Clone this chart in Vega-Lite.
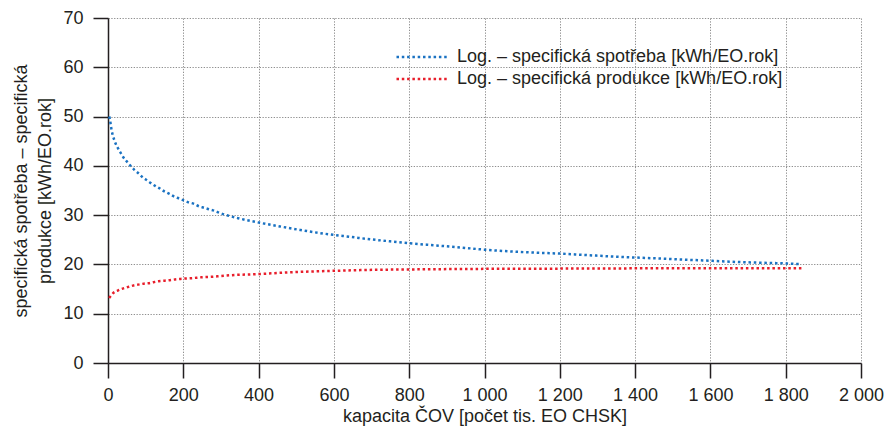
{
  "$schema": "https://vega.github.io/schema/vega-lite/v6.json",
  "width": 753,
  "height": 345,
  "autosize": "none",
  "padding": {"left": 108, "top": 18, "right": 24, "bottom": 67},
  "background": "white",
  "view": {"stroke": null},
  "config": {
    "font": "Liberation Sans, sans-serif"
  },
  "data": {
    "values": [
      {"s": "Log. – specifická spotřeba [kWh/EO.rok]", "x": 3, "y": 50.0},
      {"s": "Log. – specifická spotřeba [kWh/EO.rok]", "x": 5, "y": 49.5},
      {"s": "Log. – specifická spotřeba [kWh/EO.rok]", "x": 7, "y": 48.5},
      {"s": "Log. – specifická spotřeba [kWh/EO.rok]", "x": 9, "y": 47.5},
      {"s": "Log. – specifická spotřeba [kWh/EO.rok]", "x": 12, "y": 46.4},
      {"s": "Log. – specifická spotřeba [kWh/EO.rok]", "x": 16, "y": 45.4},
      {"s": "Log. – specifická spotřeba [kWh/EO.rok]", "x": 21, "y": 44.4},
      {"s": "Log. – specifická spotřeba [kWh/EO.rok]", "x": 27, "y": 43.5},
      {"s": "Log. – specifická spotřeba [kWh/EO.rok]", "x": 34, "y": 42.6},
      {"s": "Log. – specifická spotřeba [kWh/EO.rok]", "x": 42, "y": 41.6},
      {"s": "Log. – specifická spotřeba [kWh/EO.rok]", "x": 51, "y": 40.8},
      {"s": "Log. – specifická spotřeba [kWh/EO.rok]", "x": 60, "y": 40.0},
      {"s": "Log. – specifická spotřeba [kWh/EO.rok]", "x": 70, "y": 39.2},
      {"s": "Log. – specifická spotřeba [kWh/EO.rok]", "x": 81, "y": 38.5},
      {"s": "Log. – specifická spotřeba [kWh/EO.rok]", "x": 92, "y": 37.7},
      {"s": "Log. – specifická spotřeba [kWh/EO.rok]", "x": 103, "y": 37.1},
      {"s": "Log. – specifická spotřeba [kWh/EO.rok]", "x": 114, "y": 36.5},
      {"s": "Log. – specifická spotřeba [kWh/EO.rok]", "x": 126, "y": 35.9},
      {"s": "Log. – specifická spotřeba [kWh/EO.rok]", "x": 138, "y": 35.4},
      {"s": "Log. – specifická spotřeba [kWh/EO.rok]", "x": 150, "y": 34.8},
      {"s": "Log. – specifická spotřeba [kWh/EO.rok]", "x": 163, "y": 34.3},
      {"s": "Log. – specifická spotřeba [kWh/EO.rok]", "x": 175, "y": 33.8},
      {"s": "Log. – specifická spotřeba [kWh/EO.rok]", "x": 188, "y": 33.4},
      {"s": "Log. – specifická spotřeba [kWh/EO.rok]", "x": 201, "y": 33.0},
      {"s": "Log. – specifická spotřeba [kWh/EO.rok]", "x": 214, "y": 32.6},
      {"s": "Log. – specifická spotřeba [kWh/EO.rok]", "x": 228, "y": 32.3},
      {"s": "Log. – specifická spotřeba [kWh/EO.rok]", "x": 241, "y": 31.8},
      {"s": "Log. – specifická spotřeba [kWh/EO.rok]", "x": 255, "y": 31.5},
      {"s": "Log. – specifická spotřeba [kWh/EO.rok]", "x": 268, "y": 31.2},
      {"s": "Log. – specifická spotřeba [kWh/EO.rok]", "x": 282, "y": 30.9},
      {"s": "Log. – specifická spotřeba [kWh/EO.rok]", "x": 295, "y": 30.5},
      {"s": "Log. – specifická spotřeba [kWh/EO.rok]", "x": 350, "y": 29.3},
      {"s": "Log. – specifická spotřeba [kWh/EO.rok]", "x": 400, "y": 28.5},
      {"s": "Log. – specifická spotřeba [kWh/EO.rok]", "x": 457, "y": 27.7},
      {"s": "Log. – specifická spotřeba [kWh/EO.rok]", "x": 510, "y": 27.0},
      {"s": "Log. – specifická spotřeba [kWh/EO.rok]", "x": 559, "y": 26.4},
      {"s": "Log. – specifická spotřeba [kWh/EO.rok]", "x": 598, "y": 26.0},
      {"s": "Log. – specifická spotřeba [kWh/EO.rok]", "x": 643, "y": 25.6},
      {"s": "Log. – specifická spotřeba [kWh/EO.rok]", "x": 696, "y": 25.1},
      {"s": "Log. – specifická spotřeba [kWh/EO.rok]", "x": 749, "y": 24.7},
      {"s": "Log. – specifická spotřeba [kWh/EO.rok]", "x": 800, "y": 24.3},
      {"s": "Log. – specifická spotřeba [kWh/EO.rok]", "x": 864, "y": 23.9},
      {"s": "Log. – specifická spotřeba [kWh/EO.rok]", "x": 935, "y": 23.45},
      {"s": "Log. – specifická spotřeba [kWh/EO.rok]", "x": 1000, "y": 23.0},
      {"s": "Log. – specifická spotřeba [kWh/EO.rok]", "x": 1077, "y": 22.6},
      {"s": "Log. – specifická spotřeba [kWh/EO.rok]", "x": 1147, "y": 22.35},
      {"s": "Log. – specifická spotřeba [kWh/EO.rok]", "x": 1200, "y": 22.2},
      {"s": "Log. – specifická spotřeba [kWh/EO.rok]", "x": 1271, "y": 21.9},
      {"s": "Log. – specifická spotřeba [kWh/EO.rok]", "x": 1342, "y": 21.6},
      {"s": "Log. – specifická spotřeba [kWh/EO.rok]", "x": 1400, "y": 21.4},
      {"s": "Log. – specifická spotřeba [kWh/EO.rok]", "x": 1466, "y": 21.2},
      {"s": "Log. – specifická spotřeba [kWh/EO.rok]", "x": 1537, "y": 20.95},
      {"s": "Log. – specifická spotřeba [kWh/EO.rok]", "x": 1600, "y": 20.75},
      {"s": "Log. – specifická spotřeba [kWh/EO.rok]", "x": 1670, "y": 20.5},
      {"s": "Log. – specifická spotřeba [kWh/EO.rok]", "x": 1732, "y": 20.35},
      {"s": "Log. – specifická spotřeba [kWh/EO.rok]", "x": 1800, "y": 20.2},
      {"s": "Log. – specifická spotřeba [kWh/EO.rok]", "x": 1841, "y": 20.05},
      {"s": "Log. – specifická produkce [kWh/EO.rok]", "x": 3, "y": 13.2},
      {"s": "Log. – specifická produkce [kWh/EO.rok]", "x": 5, "y": 13.4},
      {"s": "Log. – specifická produkce [kWh/EO.rok]", "x": 14, "y": 14.2},
      {"s": "Log. – specifická produkce [kWh/EO.rok]", "x": 26, "y": 14.7},
      {"s": "Log. – specifická produkce [kWh/EO.rok]", "x": 39, "y": 15.1},
      {"s": "Log. – specifická produkce [kWh/EO.rok]", "x": 52, "y": 15.4},
      {"s": "Log. – specifická produkce [kWh/EO.rok]", "x": 66, "y": 15.7},
      {"s": "Log. – specifická produkce [kWh/EO.rok]", "x": 80, "y": 15.9},
      {"s": "Log. – specifická produkce [kWh/EO.rok]", "x": 95, "y": 16.1},
      {"s": "Log. – specifická produkce [kWh/EO.rok]", "x": 108, "y": 16.2},
      {"s": "Log. – specifická produkce [kWh/EO.rok]", "x": 121, "y": 16.4},
      {"s": "Log. – specifická produkce [kWh/EO.rok]", "x": 135, "y": 16.6},
      {"s": "Log. – specifická produkce [kWh/EO.rok]", "x": 150, "y": 16.7},
      {"s": "Log. – specifická produkce [kWh/EO.rok]", "x": 164, "y": 16.8},
      {"s": "Log. – specifická produkce [kWh/EO.rok]", "x": 178, "y": 16.95},
      {"s": "Log. – specifická produkce [kWh/EO.rok]", "x": 192, "y": 17.05},
      {"s": "Log. – specifická produkce [kWh/EO.rok]", "x": 206, "y": 17.15},
      {"s": "Log. – specifická produkce [kWh/EO.rok]", "x": 220, "y": 17.2},
      {"s": "Log. – specifická produkce [kWh/EO.rok]", "x": 235, "y": 17.3},
      {"s": "Log. – specifická produkce [kWh/EO.rok]", "x": 249, "y": 17.4},
      {"s": "Log. – specifická produkce [kWh/EO.rok]", "x": 263, "y": 17.45},
      {"s": "Log. – specifická produkce [kWh/EO.rok]", "x": 277, "y": 17.5},
      {"s": "Log. – specifická produkce [kWh/EO.rok]", "x": 291, "y": 17.6},
      {"s": "Log. – specifická produkce [kWh/EO.rok]", "x": 324, "y": 17.8},
      {"s": "Log. – specifická produkce [kWh/EO.rok]", "x": 400, "y": 18.05},
      {"s": "Log. – specifická produkce [kWh/EO.rok]", "x": 483, "y": 18.4},
      {"s": "Log. – specifická produkce [kWh/EO.rok]", "x": 598, "y": 18.7},
      {"s": "Log. – specifická produkce [kWh/EO.rok]", "x": 705, "y": 18.9},
      {"s": "Log. – specifická produkce [kWh/EO.rok]", "x": 825, "y": 19.0},
      {"s": "Log. – specifická produkce [kWh/EO.rok]", "x": 1000, "y": 19.1},
      {"s": "Log. – specifická produkce [kWh/EO.rok]", "x": 1200, "y": 19.15},
      {"s": "Log. – specifická produkce [kWh/EO.rok]", "x": 1400, "y": 19.2},
      {"s": "Log. – specifická produkce [kWh/EO.rok]", "x": 1600, "y": 19.2},
      {"s": "Log. – specifická produkce [kWh/EO.rok]", "x": 1842, "y": 19.25}
    ]
  },
  "mark": {"type": "line", "strokeWidth": 2.5, "strokeDash": [2.5, 2.8], "interpolate": "monotone"},
  "encoding": {
    "x": {
      "field": "x",
      "type": "quantitative",
      "scale": {"domain": [0, 2000], "nice": false},
      "axis": {
        "values": [0, 200, 400, 600, 800, 1000, 1200, 1400, 1600, 1800, 2000],
        "labelExpr": "replace(format(datum.value, ','), ',', ' ')",
        "title": "kapacita ČOV [počet tis. EO CHSK]",
        "titleFontWeight": "normal",
        "titleFontSize": 18,
        "titleColor": "#231f20",
        "titlePadding": 3,
        "labelFontSize": 18,
        "labelColor": "#231f20",
        "labelPadding": 8,
        "tickSize": 15,
        "tickColor": "#231f20",
        "domainColor": "#231f20",
        "domainWidth": 1.5,
        "tickWidth": 1.5,
        "gridColor": "#8f8f8f",
        "gridDash": [1.3, 1.5],
        "gridWidth": 1,
        "labelFlush": false
      }
    },
    "y": {
      "field": "y",
      "type": "quantitative",
      "scale": {"domain": [0, 70], "nice": false},
      "axis": {
        "values": [0, 10, 20, 30, 40, 50, 60, 70],
        "title": ["specifická spotřeba – specifická", "produkce [kWh/EO.rok]"],
        "titleFontWeight": "normal",
        "titleFontSize": 18,
        "titleColor": "#231f20",
        "titlePadding": 8,
        "titleLineHeight": 24,
        "labelFontSize": 18,
        "labelColor": "#231f20",
        "labelPadding": 10,
        "tickSize": 15,
        "tickColor": "#231f20",
        "domainColor": "#231f20",
        "domainWidth": 1.5,
        "tickWidth": 1.5,
        "gridColor": "#8f8f8f",
        "gridDash": [1.3, 1.5],
        "gridWidth": 1,
        "labelFlush": false
      }
    },
    "color": {
      "field": "s",
      "type": "nominal",
      "sort": null,
      "scale": {
        "domain": ["Log. – specifická spotřeba [kWh/EO.rok]", "Log. – specifická produkce [kWh/EO.rok]"],
        "range": ["#1a72c2", "#e81e2b"]
      },
      "legend": {
        "title": null,
        "orient": "none",
        "legendX": 304,
        "legendY": 29,
        "symbolType": "M-3,0H3",
        "symbolSize": 289,
        "symbolStrokeWidth": 2.5,
        "symbolDash": [2.5, 2.8],
        "labelFontSize": 18,
        "labelColor": "#231f20",
        "labelLimit": 500,
        "rowPadding": 3,
        "labelOffset": 25
      }
    }
  }
}
